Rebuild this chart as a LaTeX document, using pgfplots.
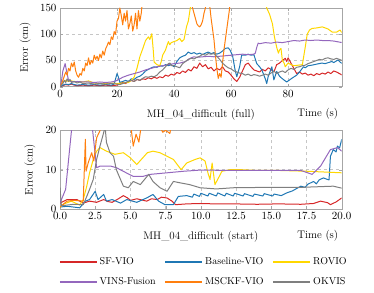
\documentclass[border=0pt]{standalone}
\usepackage{pgfplots}
\pgfplotsset{compat=1.18}
\definecolor{cSF}{HTML}{D62728}
\definecolor{cBL}{HTML}{1F77B4}
\definecolor{cRO}{HTML}{FFD700}
\definecolor{cVI}{HTML}{9467BD}
\definecolor{cMS}{HTML}{FF7F0E}
\definecolor{cOK}{HTML}{7F7F7F}
\pgfplotsset{
  myax/.style={
    scale only axis, width=281.7pt, height=78.7pt,
    axis line style={gray!70}, tick style={gray!70},
    major tick length=3pt,
    grid=major, grid style={dashed, gray!45},
    tick label style={font=\fontsize{10.5}{12}\selectfont},
    label style={font=\fontsize{11}{13}\selectfont},
    title style={font=\fontsize{11}{13}\selectfont, at={(0.5,0)}, anchor=north, yshift=-25pt},
    xlabel style={at={(axis description cs:1,0)}, anchor=north east, yshift=-18pt},
    ylabel={Error (cm)},
    every axis plot/.append style={line width=1pt, line join=round},
    clip=true,
  }
}
\begin{document}
\begin{tikzpicture}
\useasboundingbox (0,0) rectangle (374pt,292pt);
% ---------- top axis ----------
\begin{axis}[myax, at={(60pt,205.3pt)}, anchor=south west,
  xmin=0, xmax=98.8, ymin=0, ymax=150,
  xtick={0,20,40,60,80}, ytick={0,50,100,150},
  xlabel={Time (s)}, title={MH\_04\_difficult (full)},
  ylabel style={at={(axis description cs:-0.124,0.5)}, anchor=center}]
\addplot[cSF] coordinates {(0,0)(1,2)(2,4)(3,3)(4,5)(5,3)(6,2)(8,3)(10,2)(12,3)(14,2)(16,3)(18,2)(20,3)(21,5)(22,8)(23,6)(24,10)(25,12)(26,10)(27,14)(28,12)(29,15)(30,14)(31,17)(32,15)(33,18)(34,16)(35,19)(36,17)(37,22)(38,20)(39,24)(40,22)(41,27)(42,25)(43,30)(44,27)(45,33)(46,30)(47,38)(48,35)(49,45)(50,38)(51,42)(52,34)(53,37)(54,30)(55,35)(56,32)(57,38)(58,30)(59,28)(60,22)(61,15)(62,10)(63,18)(64,30)(65,42)(66,45)(67,38)(68,32)(69,30)(70,28)(71,33)(72,30)(73,36)(74,33)(75,28)(76,42)(77,45)(78,50)(79,54)(79.5,48)(80,55)(81,45)(82,35)(83,25)(84,28)(85,24)(86,26)(87,22)(88,24)(89,21)(90,25)(91,23)(92,26)(93,24)(94,28)(95,25)(96,30)(97,28)(98,25)(99,22)};
\addplot[cBL] coordinates {(0,0)(1,3)(2,5)(3,4)(4,6)(5,4)(6,3)(8,4)(10,3)(12,4)(14,3)(16,4)(18,3)(19,5)(19.5,15)(20,25)(20.5,18)(21,8)(22,10)(23,12)(24,10)(25,15)(26,14)(27,18)(28,20)(29,24)(30,30)(31,33)(32,36)(33,38)(34,37)(35,40)(36,39)(37,42)(38,40)(39,42)(40,38)(41,48)(42,55)(43,58)(44,60)(45,66)(46,63)(47,65)(48,62)(49,64)(50,61)(51,64)(52,66)(53,63)(54,65)(55,62)(56,64)(57,68)(58,73)(59,74)(59.6,70)(60.5,60)(61.4,32)(62,19)(63,38)(63.7,60)(65,60)(66,62)(67,60)(68,61)(69,44)(70,38)(70.8,32)(72,15)(72.5,6)(73,19)(74.3,38)(75,13)(76,29)(77,20)(77.8,16)(79.5,9)(81.3,16)(83,22)(84,28)(85.4,38)(86,36)(87,40)(88.3,41)(90,43)(91.8,45)(93,44)(95.3,48)(96,46)(97.5,51)(98.2,47)(99,44)};
\addplot[cRO] coordinates {(0,0)(0.5,5)(1,8)(2,12)(3,10)(4,11)(5,10)(6,9)(7,10)(8,9)(9,10)(10,11)(11,9)(12,7)(14,6)(16,6)(18,7)(20,6)(22,7)(24,8)(25,12)(26,18)(27,35)(28,57)(29,72)(30,88)(31,95)(31.5,90)(32.2,101)(32.7,70)(33,47)(34,42)(35,40)(35.5,48)(36,60)(37,70)(38,86)(38.5,80)(39,84)(40,86)(41,88)(42,92)(42.7,86)(43.5,90)(44.4,115)(45,125)(45.7,150)(46,200)(72,200)(72.5,150)(73.5,138)(74.5,120)(75.2,95)(76,75)(76.6,64)(77,70)(77.5,73)(78,50)(78.6,45)(79,38)(80,45)(81,42)(82,40)(83.5,41)(85,42)(86,75)(86.7,100)(87.5,108)(88.4,111)(90,112)(92,114)(94,110)(95.5,104)(97,104)(98.2,108)(99,102)};
\addplot[cVI] coordinates {(0,0)(0.5,10)(1,30)(1.8,44)(2.3,30)(3,12)(4,10)(5,9)(6,10)(8,9)(10,9)(12,8)(14,9)(16,8)(18,9)(19,10)(20,12)(21,15)(22,18)(24,22)(26,25)(28,28)(30,32)(32,35)(34,38)(36,40)(38,42)(40,44)(42,45)(44,48)(45,52)(46,55)(47,57)(48,56)(50,57)(52,58)(54,57)(56,58)(58,59)(60,60)(62,61)(64,62)(66,61)(68,62)(68.5,64)(69,75)(69.5,83)(70,82)(72,84)(74,83)(76,85)(78,84)(80,86)(82,88)(84,87)(86,89)(88,88)(90,89)(92,88)(94,88)(96,87)(98,85)(99,84)};
\addplot[cMS] coordinates {(0,0)(0.5,5)(1,12)(1.5,20)(2,28)(2.5,22)(3,35)(3.5,30)(4,45)(4.5,38)(5,47)(5.5,30)(6,22)(6.5,18)(7,25)(7.5,22)(8,35)(8.5,30)(9,45)(9.5,40)(10,55)(10.5,42)(11,50)(11.5,45)(12,60)(12.5,52)(13,58)(13.5,50)(14,62)(14.5,55)(15,68)(15.5,60)(16,72)(16.5,78)(17,85)(17.5,80)(18,95)(18.5,90)(19,105)(19.5,100)(20,125)(20.5,130)(21,150)(21.5,135)(22,118)(22.5,140)(23,125)(23.5,145)(24,110)(24.5,120)(25,135)(25.5,106)(26,118)(26.5,140)(27,110)(27.5,145)(28,125)(28.5,140)(29,170)(30,200)(44,200)(46,160)(46.5,150)(47,140)(47.5,130)(48,120)(48.5,116)(49,114)(49.5,118)(50,125)(50.5,140)(51,150)(51.5,170)(52,180)(52.6,150)(53,130)(53.5,110)(54,90)(54.5,60)(55,35)(55.5,16)(56,25)(56.5,18)(57,45)(57.5,70)(58,90)(58.5,110)(59,130)(59.5,150)(60,250)};
\addplot[cOK] coordinates {(0,0)(0.5,3)(1,6)(1.5,12)(2,8)(2.5,15)(3,10)(3.5,14)(4,8)(5,10)(6,7)(7,9)(8,6)(10,7)(12,5)(14,6)(16,5)(18,6)(20,5)(21,4)(22,6)(23,8)(24,10)(25,12)(26,10)(27,14)(28,12)(29,16)(30,19)(31,18)(32,20)(33,19)(34,22)(35,28)(36,32)(37,38)(38,44)(38.6,45)(39,40)(40,40)(41,38)(42,36)(43,44)(44,48)(45,52)(46,54)(47,53)(48,56)(49,58)(50,62)(51,60)(52,63)(53,62)(54,63)(55,58)(56,52)(57,45)(58,40)(59,36)(60,34)(61,30)(62,28)(63,26)(64,25)(65,22)(66,24)(67,21)(68,23)(69,22)(70,20)(71,22)(72,24)(73,22)(74,26)(75,30)(76,25)(77,28)(78,30)(79,27)(80,32)(81,35)(82,33)(83,37)(84,38)(85,40)(86,41)(87,44)(88,46)(89,48)(90,50)(91,52)(92,51)(93,54)(94,55)(95,53)(96,52)(97,54)(98,52)(99,50)};
\end{axis}
% ---------- bottom axis ----------
\begin{axis}[myax, at={(60pt,83pt)}, anchor=south west,
  xmin=0, xmax=20, ymin=0, ymax=20,
  xtick={0,2.5,5,7.5,10,12.5,15,17.5,20}, ytick={0,10,20},
  xticklabel style={/pgf/number format/.cd, fixed, fixed zerofill, precision=1},
  xlabel={Time (s)}, title={MH\_04\_difficult (start)},
  ylabel style={at={(axis description cs:-0.107,0.5)}, anchor=center},
  legend columns=3,
  legend style={draw=none, fill=none, at={(axis description cs:0,0)}, anchor=north west,
    xshift=-4pt, yshift=-44.5pt, font=\fontsize{10}{12}\selectfont,
    /tikz/every even column/.append style={column sep=7pt}, row sep=7.5pt},
  legend cell align=left,
  legend image code/.code={\draw[#1, line width=1.5pt] (0pt,0pt) -- (37pt,0pt);}]
\addplot[cSF] coordinates {(0,1.5)(0.5,2.4)(1.2,2.4)(1.65,1.5)(2.1,2.0)(2.6,1.7)(3.1,2.4)(3.4,1.9)(3.7,1.7)(4.1,2.5)(4.5,3.4)(4.8,2.8)(5.0,2.2)(5.45,2.6)(5.8,2.3)(6.15,2.0)(6.5,2.6)(6.9,2.4)(7.2,3.0)(7.6,2.8)(7.95,2.0)(8.2,1.1)(8.6,1.2)(9.0,1.3)(9.95,1.4)(11,1.3)(12.3,1.3)(14,1.2)(15.5,1.3)(17.1,1.2)(18,1.4)(18.5,2.0)(19.0,1.6)(19.2,1.1)(19.6,1.8)(20,2.8)};
\addlegendentry{SF-VIO}
\addplot[cBL] coordinates {(0,0.5)(0.5,0.7)(1.4,0.3)(1.8,2.0)(2.1,2.4)(2.5,4.5)(2.7,2.4)(3.1,3.7)(3.3,2.0)(3.7,2.4)(4.3,1.5)(4.74,2.4)(5.45,1.7)(6.15,2.8)(6.6,3.7)(7.0,2.0)(7.45,1.1)(8.05,1.1)(8.4,3.2)(9.0,3.4)(9.4,3.0)(9.5,3.8)(9.9,3.2)(10.0,4.0)(10.5,3.3)(10.6,4.0)(11.1,3.3)(11.2,4.1)(11.7,3.3)(11.8,4.0)(12.3,3.3)(12.4,4.0)(13,3.3)(13.1,3.9)(13.7,3.2)(13.8,3.8)(14.4,3.3)(14.5,3.9)(15.1,3.3)(15.2,3.8)(15.7,3.4)(16.1,4.1)(16.5,4.6)(16.8,5.2)(17.1,5.8)(17.4,5.5)(17.6,6.3)(18.0,7.0)(18.2,6.4)(18.4,7.4)(18.7,7.9)(19.0,7.5)(19.1,7.4)(19.2,13.4)(19.4,15.1)(19.6,14.5)(19.7,16)(19.85,15.5)(20,17.7)};
\addlegendentry{Baseline-VIO}
\addplot[cRO] coordinates {(0,0.5)(0.3,1.3)(0.8,2.0)(1.4,1.0)(1.65,2.4)(1.9,5.8)(2.1,9.2)(2.36,12.6)(2.6,14.7)(2.84,15.6)(3.3,14.7)(3.9,13.9)(4.5,14.3)(5.0,13.0)(5.45,11.3)(6.2,14.3)(6.6,14.7)(7.1,14.3)(7.6,13.4)(8.05,12.6)(8.6,10.0)(9.0,11.7)(9.6,12.6)(9.95,13.0)(10.3,12.2)(10.5,9.2)(10.65,7.5)(10.8,11.7)(11.0,6.2)(11.25,7.9)(11.5,9.6)(12.1,10.0)(12.8,10.0)(14,9.8)(15.5,9.8)(17.5,9.6)(20,9.2)};
\addlegendentry{ROVIO}
\addplot[cVI] coordinates {(0,1.5)(0.4,5)(0.83,20.5)(1,30)(2,30)(2.3,20.5)(2.6,10.5)(2.85,10.9)(3.6,10.9)(4.0,10.5)(4.7,9.2)(5.2,8.3)(5.9,8.3)(6.4,8.8)(7.6,9.2)(8.8,9.6)(10,9.9)(12,9.8)(14,9.8)(17.1,9.8)(17.9,8.8)(18.5,10.9)(19.2,15.1)(19.7,15.6)(20,14.7)};
\addlegendentry{VINS-Fusion}
\addplot[cMS] coordinates {(0,0.5)(0.5,2.0)(1.0,2.2)(1.65,2.0)(1.8,17.7)(1.85,9.6)(2.0,11.7)(2.25,14.3)(2.4,12.2)(2.6,18.1)(2.85,20)(3,24)(4,28)(5,22)(5.2,16)(5.4,19)(5.6,17)(5.8,22)(6.5,25)(7.3,19.5)(7.5,20)(7.8,19.2)(8,23)(9,30)(10,40)};
\addlegendentry{MSCKF-VIO}
\addplot[cOK] coordinates {(0,5.4)(0.1,0.8)(0.5,1.0)(1.0,1.2)(1.65,1.1)(1.9,3.2)(2.1,5.0)(2.36,7.5)(2.6,12.6)(2.84,16.0)(3.1,19.4)(3.2,21)(3.3,16.9)(3.55,14.3)(3.8,13.4)(4.0,10.0)(4.2,8.3)(4.5,5.8)(4.85,5.4)(5.2,7.0)(5.7,6.2)(6.3,8.8)(6.6,7.0)(7.1,5.4)(7.6,4.5)(8.05,7.0)(8.6,6.6)(9.2,6.2)(9.95,5.4)(11.1,5.1)(12.3,5.4)(14.7,5.5)(17.1,5.5)(19.4,5.8)(20,5.3)};
\addlegendentry{OKVIS}
\end{axis}
\end{tikzpicture}
\end{document}
